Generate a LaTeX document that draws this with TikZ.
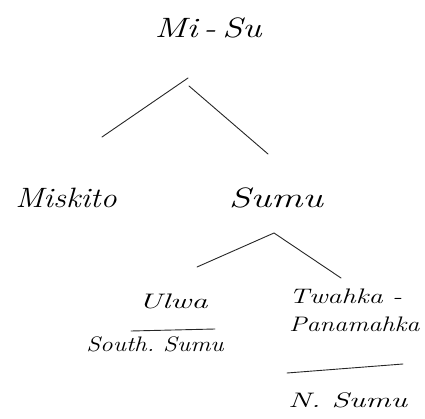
\documentclass[tikz,border=0pt]{standalone}
\usepackage{graphicx}
\newcommand{\wideTxt}[2][1.25]{\scalebox{#1}[1]{#2}}
\begin{document}
\begin{tikzpicture}[x=1pt,y=1pt,
  lbl/.style={inner sep=0pt, font=\itshape\fontsize{28}{32}\selectfont},
  sub/.style={inner sep=0pt, font=\itshape\fontsize{21}{24}\selectfont},
  branch/.style={line width=0.9pt, black!85, line cap=round}]
\useasboundingbox (0,0) rectangle (425,418);
% nodes
\node[lbl] (misu) at (208,390) {\wideTxt[1.3]{Mi\,-\,Su}};
\node[lbl] (misk) at (66,220) {\wideTxt[1.15]{Miskito}};
\node[lbl] (sumu) at (276,220) {\wideTxt[1.4]{Sumu}};
\node[sub] (ulwa) at (173,117) {\wideTxt[1.55]{Ulwa}};
\node[sub] (south) at (155,74) {\wideTxt[1.2]{South.\ Sumu}};
\node[sub,anchor=west] (twa) at (289,122) {\wideTxt[1.35]{Twahka\,\,-}};
\node[sub,anchor=west] (pana) at (289,94) {\wideTxt[1.25]{Panamahka}};
\node[sub,anchor=west] (nsumu) at (288,18) {\wideTxt[1.5]{N.\ Sumu}};
% branch points
\coordinate (a1) at (188,340);
\coordinate (a2) at (189,332);
\coordinate (l1) at (102,281);
\coordinate (r1) at (268,264);
\coordinate (a3) at (274,185);
\coordinate (l2) at (197,151);
\coordinate (r2) at (341,140);
\coordinate (u1) at (131,87);
\coordinate (u2) at (215,89);
\coordinate (n1) at (287,45);
\coordinate (n2) at (403,54);
% lines
\draw[branch] (l1) -- (a1);
\draw[branch] (a2) -- (r1);
\draw[branch] (l2) -- (a3) -- (r2);
\draw[branch] (u1) -- (u2);
\draw[branch] (n1) -- (n2);
\end{tikzpicture}
\end{document}
